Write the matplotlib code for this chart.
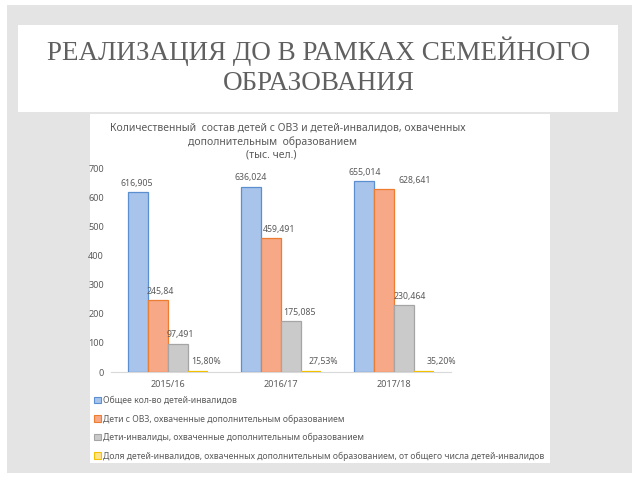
import matplotlib
matplotlib.use("Agg")
import matplotlib.pyplot as plt
from matplotlib.patches import Rectangle, Patch
import numpy as np

# ---- data ----
categories = ["2015/16", "2016/17", "2017/18"]
total_disabled = [616.905, 636.024, 655.014]
ovz_covered = [245.84, 459.491, 628.641]
disabled_covered = [97.491, 175.085, 230.464]
share_pct = [15.80, 27.53, 35.20]
series_names = [
    "Общее кол-во детей-инвалидов",
    "Дети с ОВЗ, охваченные дополнительным образованием",
    "Дети-инвалиды, охваченные дополнительным образованием",
    "Доля детей-инвалидов, охваченных дополнительным образованием, от общего числа детей-инвалидов",
]
slide_title_l1 = "РЕАЛИЗАЦИЯ ДО В РАМКАХ СЕМЕЙНОГО"
slide_title_l2 = "ОБРАЗОВАНИЯ"
chart_title_l1 = "Количественный  состав детей с ОВЗ и детей-инвалидов, охваченных"
chart_title_l2 = "дополнительным  образованием"
chart_title_l3 = "(тыс. чел.)"

W, H = 640, 480
fig = plt.figure(figsize=(6.4, 4.8), dpi=100)
fig.patch.set_facecolor("white")

def fx(px):
    return px / W

def fy(py):
    return 1 - py / H

def rect(x0, y0, x1, y1, color, z):
    fig.add_artist(Rectangle((fx(x0), fy(y1)), fx(x1) - fx(x0), fy(y0) - fy(y1),
                             transform=fig.transFigure, facecolor=color,
                             edgecolor="none", zorder=z))

rect(7, 5, 632, 473, "#e4e4e4", -10)
rect(18, 25, 618, 112, "#ffffff", -9)
rect(90, 114, 550, 463, "#ffffff", -9)

fig.text(fx(319), fy(60), slide_title_l1, ha="center", va="baseline",
         family="Liberation Serif", fontsize=19.5, color="#606060")
fig.text(fx(319), fy(90), slide_title_l2, ha="center", va="baseline",
         family="Liberation Serif", fontsize=19.5, color="#606060")

txt_col = "#5a5a5a"
sans = "Noto Sans"
fig.text(fx(288), fy(128), chart_title_l1, ha="center", va="center",
         family=sans, fontsize=7.5, color=txt_col)
fig.text(fx(272), fy(142), chart_title_l2, ha="center", va="center",
         family=sans, fontsize=7.5, color=txt_col)
fig.text(fx(271), fy(155), chart_title_l3, ha="center", va="center",
         family=sans, fontsize=7.5, color=txt_col)

ax = fig.add_axes([fx(111), fy(372), fx(451) - fx(111), fy(168) - fy(372)])
ax.set_facecolor("none")
ax.set_xlim(-0.5, 2.5)
ax.set_ylim(0, 700)

x = np.arange(len(categories))
bw = 0.1765
fills = ["#a8c4ea", "#f7a886", "#cacaca", "#ffe38a"]
edges = ["#5b8fd0", "#ed7d31", "#a5a5a5", "#f2c200"]
share_vals = [p / 100 for p in share_pct]
series = [total_disabled, ovz_covered, disabled_covered, share_vals]

for i, vals in enumerate(series):
    pos = x + (i - 1.5) * bw
    ax.bar(pos, vals, width=bw, color=fills[i], edgecolor=edges[i],
           linewidth=0.9 if i < 3 else 1.6, zorder=3)

# data labels (offsets in points: dx per series/category)
label_dx = [[-1, 0, 0], [2, 6, 22], [2, 6, 4], [6, 9, 12]]
label_dy = [[3, 3, 3], [3, 3, 3], [3, 3, 3], [4, 4, 4]]
for i, vals in enumerate(series):
    pos = x + (i - 1.5) * bw
    for j, v in enumerate(vals):
        if i < 3:
            s = f"{v:g}".replace(".", ",")
        else:
            s = f"{share_pct[j]:.2f}%".replace(".", ",")
        ax.annotate(s, (pos[j], v), xytext=(label_dx[i][j], label_dy[i][j]),
                    textcoords="offset points", ha="center", va="bottom",
                    family=sans, fontsize=6.3, color=txt_col, zorder=4)

ax.set_xticks(x)
ax.set_xticklabels(categories)
ax.set_yticks(np.arange(0, 701, 100))
ax.tick_params(axis="both", length=0, labelsize=6.5, labelcolor=txt_col)
ax.tick_params(axis="y", pad=5)
ax.tick_params(axis="x", pad=6)
for lab in ax.get_xticklabels() + ax.get_yticklabels():
    lab.set_family(sans)
for s in ["top", "right", "left"]:
    ax.spines[s].set_visible(False)
ax.spines["bottom"].set_color("#d9d9d9")
ax.spines["bottom"].set_linewidth(0.8)

handles = [Patch(facecolor=fills[i], edgecolor=edges[i], linewidth=0.8)
           for i in range(4)]
leg = fig.legend(handles, series_names, loc="upper left",
                 bbox_to_anchor=(fx(94), fy(396)), frameon=False,
                 prop={"family": sans, "size": 6.2}, labelcolor=txt_col,
                 handlelength=0.8, handleheight=0.8, handletextpad=0.25,
                 labelspacing=1.08, borderaxespad=0, borderpad=0)

fig.savefig("out.png", dpi=100)
